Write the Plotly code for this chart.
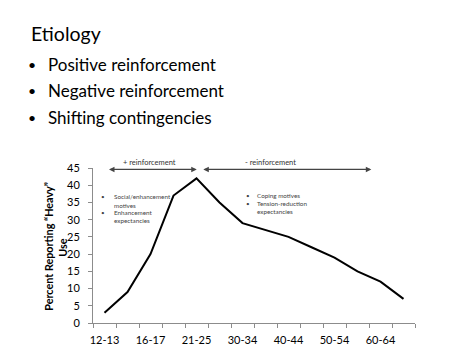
import plotly.graph_objects as go

# ---- data ----
age_groups = ["12-13", "14-15", "16-17", "18-20", "21-25", "26-29", "30-34",
              "35-39", "40-44", "45-49", "50-54", "55-59", "60-64", "65+"]
pct_heavy = [3, 9, 20, 37, 42, 35, 29, 27, 25, 22, 19, 15, 12, 7]
y_ticks = [0, 5, 10, 15, 20, 25, 30, 35, 40, 45]
title_text = "Etiology"
bullets = ["Positive reinforcement", "Negative reinforcement", "Shifting contingencies"]
note_left = ["Social/enhancement", "motives", "Enhancement", "expectancies"]
note_right = ["Coping motives", "Tension-reduction", "expectancies"]

W, H = 474, 355
L, R, T, B = 93.3, 415.3, 168.3, 322.7
pw, ph = R - L, B - T

def px(xp):
    return (xp - L) / pw

def py(yp):
    return (B - yp) / ph

FONT = "Lato"
idx = list(range(len(age_groups)))

fig = go.Figure()
fig.add_trace(go.Scatter(x=idx, y=pct_heavy, mode="lines",
                         line=dict(color="black", width=2), showlegend=False,
                         hoverinfo="skip"))

ann = []
ann.append(dict(text=title_text, x=px(29), y=py(34), xanchor="left", yanchor="middle",
                font=dict(size=19.5, color="black", family=FONT)))
for i, (b, yy) in enumerate(zip(bullets, [65, 91, 118])):
    ann.append(dict(text="•", x=px(32), y=py(yy), xanchor="center", yanchor="middle",
                    font=dict(size=14, color="black", family=FONT)))
    ann.append(dict(text=b, x=px(46), y=py(yy), xanchor="left", yanchor="middle",
                    font=dict(size=17, color="black", family=FONT)))

# y-axis title (two lines, placed separately)
ytitle_font = dict(size=10.8, color="black", family=FONT)
ann.append(dict(text="<b>Percent Reporting “Heavy”</b>", x=px(48), y=py(246),
                xanchor="center", yanchor="middle", textangle=-90, font=ytitle_font))
ann.append(dict(text="<b>Use</b>", x=px(62), y=py(247),
                xanchor="center", yanchor="middle", textangle=-90, font=ytitle_font))

# note blocks
small = dict(size=6.3, color="#444444", family=FONT)
for t, yy in zip(note_left, [197, 205.5, 213, 221]):
    ann.append(dict(text=t, x=px(112), y=py(yy), xanchor="left", yanchor="middle", font=small))
for yy in [197, 213]:
    ann.append(dict(text="•", x=px(103.5), y=py(yy), xanchor="center", yanchor="middle", font=small))
for t, yy in zip(note_right, [195.7, 203.5, 211.5]):
    ann.append(dict(text=t, x=px(255), y=py(yy), xanchor="left", yanchor="middle", font=small))
for yy in [195.7, 203.5]:
    ann.append(dict(text="•", x=px(248), y=py(yy), xanchor="center", yanchor="middle", font=small))

# reinforcement arrows
for (x0, x1) in [(0.13, 4.01), (4.23, 11.6)]:
    ann.append(dict(x=x1, y=44.6, ax=x0, ay=44.6, xref="x", yref="y", axref="x", ayref="y",
                    text="", showarrow=True, arrowhead=2, arrowsize=1, arrowwidth=1.1,
                    arrowside="end+start", arrowcolor="#444444", standoff=0, startstandoff=0))
lab = dict(size=7.5, color="#333333", family=FONT)
ann.append(dict(text="+ reinforcement", x=px(150), y=py(163), xanchor="center", yanchor="middle", font=lab))
ann.append(dict(text="- reinforcement", x=px(271), y=py(163), xanchor="center", yanchor="middle", font=lab))

for a in ann:
    a.setdefault("xref", "paper")
    a.setdefault("yref", "paper")
    a.setdefault("showarrow", False)

fig.update_layout(
    width=W, height=H,
    margin=dict(l=L, r=W - R, t=T, b=H - B, pad=0, autoexpand=False),
    paper_bgcolor="white", plot_bgcolor="white",
    annotations=ann,
    xaxis=dict(range=[-0.5, len(age_groups) - 0.5], tickmode="array",
               tickvals=idx[::2], ticktext=age_groups[::2], ticks="", showgrid=False,
               zeroline=False, showline=True, linecolor="#8c8c8c", linewidth=1,
               ticklabelstandoff=7, automargin=False,
               tickfont=dict(size=11, color="black", family=FONT),
               minor=dict(tickmode="array",
                          tickvals=[i - 0.5 for i in range(len(age_groups) + 1)],
                          ticks="outside", ticklen=4, tickcolor="#8c8c8c", showgrid=False),
               fixedrange=True),
    yaxis=dict(range=[0, 45], tickmode="array", tickvals=y_ticks, ticks="outside",
               ticklen=4, tickcolor="#8c8c8c", showgrid=False, zeroline=False,
               showline=True, linecolor="#8c8c8c", linewidth=1, ticklabelstandoff=6,
               automargin=False,
               tickfont=dict(size=11, color="black", family=FONT), fixedrange=True),
)

fig.write_html("out.html", config=dict(displayModeBar=False))
